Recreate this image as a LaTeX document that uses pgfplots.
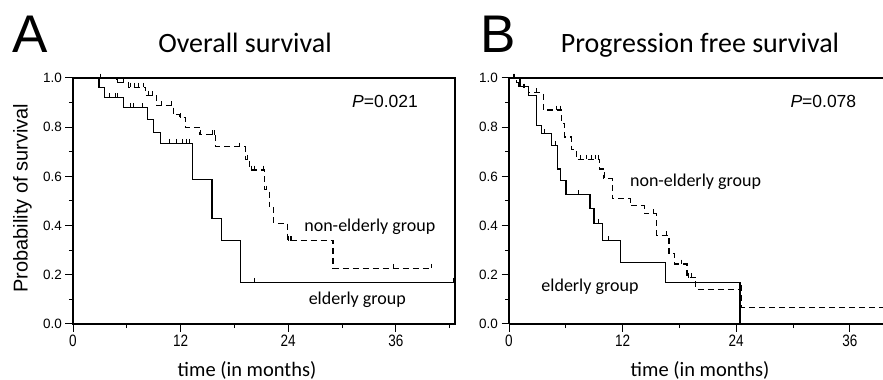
\documentclass[border=0pt]{standalone}
\usepackage{fontspec}
\setmainfont{Carlito}
\newfontfamily\arialf{Liberation Sans}
\newfontfamily\narrowf[FakeStretch=0.82]{Liberation Sans}
\usepackage{pgfplots}
\pgfplotsset{compat=1.18}
\newcommand{\fs}[1]{\fontsize{#1}{#1}\selectfont}

\pgfplotsset{
  kmaxis/.style={
    scale only axis, anchor=south west,
    ymin=0, ymax=1,
    xtick={0,12,24,36}, minor xtick={6,18,30,42},
    ytick={0,0.2,0.4,0.6,0.8,1}, minor ytick={0.1,0.3,0.5,0.7,0.9},
    tick align=outside,
    xtick pos=bottom, ytick pos=left,
    major tick length=7.5bp, minor tick length=4bp,
    every tick/.style={black, line width=1bp},
    axis line style={black, line width=1.3bp},
    /pgf/number format/assume math mode=true,
    yticklabel style={font=\arialf\fs{13.5bp}, /pgf/number format/.cd, fixed, fixed zerofill, precision=1},
    xticklabel style={font=\narrowf\fs{16.5bp}},
  },
  km/.style={const plot, black, line width=1.1bp, no marks},
  kmd/.style={const plot, black, line width=1.1bp, no marks, dash pattern=on 6bp off 4bp},
  cens/.style={only marks, mark=|, mark size=2.3bp, black, mark options={line width=0.8bp, solid, yshift=2bp}},
}

\begin{document}
\begin{tikzpicture}
% ---------------- Panel A ----------------
\begin{axis}[kmaxis, at={(73bp,56bp)}, width=382bp, height=246bp, xmin=0, xmax=42.6]
\addplot[km] coordinates {(0,1) (2.9,0.96) (3.5,0.92) (5.6,0.88) (8.3,0.833) (9.0,0.78) (9.8,0.735) (13.3,0.589) (15.5,0.43) (16.6,0.34) (18.7,0.17) (42.6,0.17)};
\addplot[kmd] coordinates {(0,1) (4.9,0.98) (6.2,0.963) (8.1,0.93) (9.3,0.89) (11.2,0.85) (11.9,0.84) (12.5,0.80) (14.1,0.77) (15.9,0.72) (19.2,0.67) (19.7,0.626) (21.4,0.545) (21.9,0.476) (22.4,0.41) (23.9,0.34) (29.0,0.227) (40.0,0.227)};
\addplot[cens] coordinates {(4.1,0.92) (4.7,0.92) (5.0,0.92) (6.4,0.88) (6.7,0.88) (7.7,0.88) (10.8,0.735) (11.5,0.735) (12.2,0.735) (12.7,0.735) (13.0,0.735) (20.2,0.17) (42.4,0.17)};
\addplot[cens] coordinates {(3.1,1) (5.0,0.98) (5.6,0.98) (6.4,0.963) (6.9,0.963) (7.3,0.963) (7.8,0.963) (8.4,0.93) (8.8,0.93) (9.9,0.89) (11.0,0.89) (12.0,0.84) (14.2,0.77) (15.6,0.77) (15.8,0.77) (18.6,0.72) (19.4,0.67) (19.9,0.626) (20.2,0.626) (21.2,0.626) (21.6,0.545) (24.0,0.34) (24.2,0.34) (24.4,0.34) (35.7,0.227) (40.0,0.227)};
\node[font=\arialf\fs{17.5bp}] at (axis cs:34.8,0.906) {\textit{P}=0.021};
\node[font=\fs{18bp}] at (axis cs:33.1,0.394) {non-elderly group};
\node[font=\fs{18bp}] at (axis cs:31.7,0.098) {elderly group};
\end{axis}
% ---------------- Panel B ----------------
\begin{axis}[kmaxis, at={(509bp,56bp)}, width=374bp, height=246bp, xmin=0, xmax=39.5,
  axis x line*=box, axis y line*=left]
\addplot[km] coordinates {(0,1) (1.16,0.965) (2.04,0.93) (2.92,0.808) (3.45,0.774) (4.5,0.727) (5.14,0.63) (5.46,0.583) (6.02,0.526) (8.55,0.468) (8.98,0.41) (9.89,0.339) (11.8,0.25) (16.5,0.167) (24.4,0.0)};
\addplot[kmd] coordinates {(0,1) (0.8,0.98) (1.5,0.96) (2.1,0.94) (3.6,0.87) (5.56,0.815) (5.9,0.76) (6.6,0.71) (7.1,0.67) (9.6,0.63) (10.1,0.59) (10.9,0.51) (12.8,0.48) (14.3,0.448) (15.6,0.36) (16.9,0.285) (17.5,0.244) (18.8,0.19) (19.7,0.142) (24.6,0.067) (39.5,0.067)};
\addplot[cens] coordinates {(0.6,1) (1.0,0.965) (3.7,0.774) (4.9,0.727) (7.3,0.526) (9.4,0.41) (10.5,0.339)};
\addplot[cens] coordinates {(0.5,1) (1.2,0.98) (1.6,0.96) (2.9,0.94) (5.0,0.87) (5.4,0.87) (7.5,0.67) (8.2,0.67) (8.7,0.67) (9.1,0.67) (9.4,0.67) (10.0,0.59) (15.2,0.448) (16.6,0.36) (18.2,0.244) (18.9,0.19) (19.3,0.19) (24.5,0.142)};
\node[font=\arialf\fs{17.5bp}] at (axis cs:33.2,0.906) {\textit{P}=0.078};
\node[font=\fs{18bp}] at (axis cs:19.7,0.58) {non-elderly group};
\node[font=\fs{18bp}] at (axis cs:8.55,0.15) {elderly group};
\end{axis}
% ---------------- Titles and labels ----------------
\node[anchor=base west, inner sep=0, font=\arialf\fs{53bp}] at (12bp,327bp) {A};
\node[anchor=base, inner sep=0, font=\fs{28bp}] at (245bp,327bp) {Overall survival};
\node[anchor=base west, inner sep=0, font=\arialf\fs{53bp}] at (480bp,327bp) {B};
\node[anchor=base, inner sep=0, font=\fs{28bp}] at (700bp,327bp) {Progression free survival};
\node[rotate=90, inner sep=0, font=\arialf\fs{20bp}] at (22.5bp,182bp) {Probability of survival};
\node[anchor=base, inner sep=0, font=\fs{20.5bp}] at (247bp,4bp) {time (in months)};
\node[anchor=base, inner sep=0, font=\fs{20.5bp}] at (700bp,4bp) {time (in months)};
\pgfresetboundingbox
\useasboundingbox (0,0) rectangle (883bp,380bp);
\end{tikzpicture}
\end{document}
